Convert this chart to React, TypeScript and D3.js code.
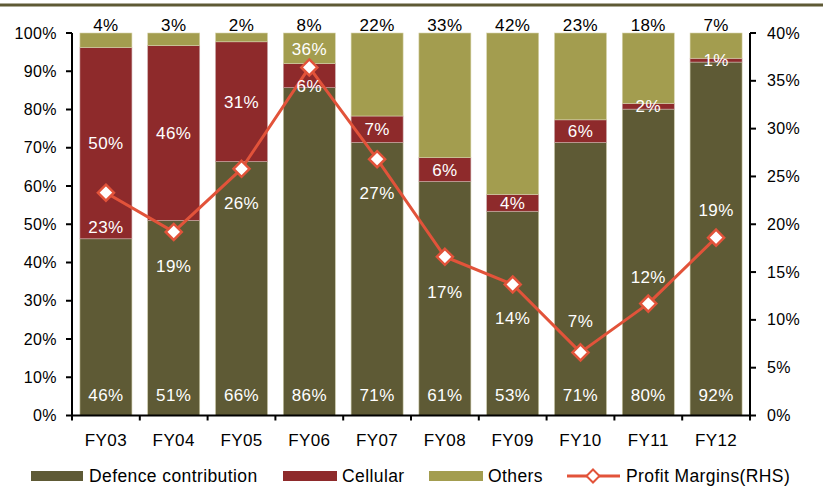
import React, { useEffect } from "react";
import * as d3 from "d3";

const categories = ["FY03", "FY04", "FY05", "FY06", "FY07", "FY08", "FY09", "FY10", "FY11", "FY12"];
const defence = [46.2, 51.0, 66.4, 85.7, 71.4, 61.2, 53.4, 71.4, 80.1, 92.4];
const cellular = [50.0, 45.7, 31.3, 6.3, 6.9, 6.2, 4.4, 5.9, 1.5, 1.0];
const others = [3.8, 3.3, 2.3, 8.0, 21.7, 32.6, 42.2, 22.7, 18.4, 6.6];
const profitMargins = [23.3, 19.2, 25.8, 36.4, 26.8, 16.6, 13.7, 6.6, 11.7, 18.6];
const leftTicks = [0, 10, 20, 30, 40, 50, 60, 70, 80, 90, 100];
const rightTicks = [0, 5, 10, 15, 20, 25, 30, 35, 40];

// label placement (style): vertical offset of profit label from its marker
const profitLabelDy = [34, 34, 34, -18, 34, 35, 34, -31, -27, -28];

const W = 823;
const H = 487;
const M = { left: 72, right: 750, top: 33, bottom: 415.5 };
const FONT = "'Liberation Sans', Arial, Helvetica, sans-serif";
const C_DEF = "#5E5A35";
const C_CEL = "#8E2A2B";
const C_OTH = "#A39D4F";
const C_LINE = "#E2533A";

const pct = (v: number) => `${Math.round(v)}%`;

export default function App() {
  useEffect(() => {
    document.body.style.margin = "0";
  }, []);

  const x = d3.scaleBand<string>().domain(categories).range([M.left, M.right]).paddingInner(0.233).paddingOuter(0.117);
  const step = (M.right - M.left) / categories.length;
  const yL = d3.scaleLinear().domain([0, 100]).range([M.bottom, M.top]);
  const yR = d3.scaleLinear().domain([0, 40]).range([M.bottom, M.top]);
  const bw = x.bandwidth();
  const cx = (c: string) => (x(c) as number) + bw / 2;

  const line = d3
    .line<number>()
    .x((_, i) => cx(categories[i]))
    .y((d) => yR(d));

  const diamond = (px: number, py: number, r: number) =>
    `M${px},${py - r}L${px + r},${py}L${px},${py + r}L${px - r},${py}Z`;

  const tickFs = 16;
  const dataFs = 17;
  const ls = 0.4;

  return (
    <svg width={W} height={H} style={{ display: "block", background: "#fff" }} fontFamily={FONT}>
      <rect x={0} y={3.5} width={W} height={3} fill={C_DEF} />

      {/* bars */}
      {categories.map((c, i) => {
        const x0 = x(c) as number;
        const d1 = defence[i];
        const c1 = d1 + cellular[i];
        const o1 = c1 + others[i];
        return (
          <g key={c}>
            <rect x={x0} y={yL(d1)} width={bw} height={yL(0) - yL(d1)} fill={C_DEF} stroke="#c9c7a6" strokeWidth={0.6} />
            <rect x={x0} y={yL(c1)} width={bw} height={yL(d1) - yL(c1)} fill={C_CEL} stroke="#c9a6a6" strokeWidth={0.6} />
            <rect x={x0} y={yL(o1)} width={bw} height={yL(c1) - yL(o1)} fill={C_OTH} stroke="#d8d4ac" strokeWidth={0.6} />
          </g>
        );
      })}

      {/* axes */}
      <g stroke="#000" strokeWidth={2}>
        <line x1={M.left} x2={M.left} y1={M.top} y2={M.bottom + 1} />
        <line x1={M.right} x2={M.right} y1={M.top} y2={M.bottom + 1} />
        <line x1={M.left - 1} x2={M.right + 1} y1={M.bottom} y2={M.bottom} />
        {leftTicks.map((t) => (
          <line key={"l" + t} x1={M.left - 6} x2={M.left} y1={yL(t)} y2={yL(t)} />
        ))}
        {rightTicks.map((t) => (
          <line key={"r" + t} x1={M.right} x2={M.right + 6} y1={yR(t)} y2={yR(t)} />
        ))}
        {d3.range(categories.length + 1).map((i) => (
          <line key={"x" + i} x1={M.left + i * step} x2={M.left + i * step} y1={M.bottom} y2={M.bottom + 5} />
        ))}
      </g>

      {/* tick labels */}
      <g fontSize={tickFs} fill="#000" letterSpacing={ls}>
        {leftTicks.map((t) => (
          <text key={"lt" + t} x={M.left - 15} y={yL(t)} dy="0.35em" textAnchor="end">
            {t}%
          </text>
        ))}
        {rightTicks.map((t) => (
          <text key={"rt" + t} x={M.right + 17} y={yR(t)} dy="0.35em" textAnchor="start">
            {t}%
          </text>
        ))}
      </g>
      <g fontSize={dataFs} fill="#000" letterSpacing={ls}>
        {categories.map((c) => (
          <text key={"xt" + c} x={cx(c)} y={440} dy="0.35em" textAnchor="middle">
            {c}
          </text>
        ))}
      </g>

      {/* others labels above bars */}
      <g fontSize={dataFs} fill="#000" textAnchor="middle" letterSpacing={ls}>
        {categories.map((c, i) => (
          <text key={"ol" + c} x={cx(c)} y={25} dy="0.35em">
            {pct(others[i])}
          </text>
        ))}
      </g>

      {/* profit line */}
      <path d={line(profitMargins) || ""} fill="none" stroke={C_LINE} strokeWidth={3} strokeLinejoin="round" />

      {/* in-bar labels */}
      <g fontSize={dataFs} fill="#fff" textAnchor="middle" letterSpacing={ls}>
        {categories.map((c, i) => (
          <text key={"dl" + c} x={cx(c)} y={M.bottom - 20} dy="0.35em">
            {pct(defence[i])}
          </text>
        ))}
        {categories.map((c, i) => {
          const mid = yL(defence[i] + cellular[i] / 2);
          const my = yR(profitMargins[i]);
          const ly = Math.abs(mid - my) < 12 ? my + 19 : mid;
          return (
            <text key={"cl" + c} x={cx(c)} y={ly} dy="0.35em">
              {pct(cellular[i])}
            </text>
          );
        })}
        {categories.map((c, i) => (
          <text key={"pl" + c} x={cx(c)} y={yR(profitMargins[i]) + profitLabelDy[i]} dy="0.35em">
            {pct(profitMargins[i])}
          </text>
        ))}
      </g>

      {/* markers */}
      {categories.map((c, i) => (
        <path key={"m" + c} d={diamond(cx(c), yR(profitMargins[i]), 8)} fill="#fff" stroke={C_LINE} strokeWidth={2.5} />
      ))}

      {/* legend */}
      <g fontSize={17.5} fill="#000" letterSpacing={ls}>
        <rect x={31} y={471} width={52} height={10} fill={C_DEF} />
        <text x={89} y={476} dy="0.35em">Defence contribution</text>
        <rect x={283} y={471} width={54} height={10} fill={C_CEL} />
        <text x={342} y={476} dy="0.35em">Cellular</text>
        <rect x={429} y={471} width={54} height={10} fill={C_OTH} />
        <text x={488} y={476} dy="0.35em">Others</text>
        <line x1={567} x2={620} y1={476} y2={476} stroke={C_LINE} strokeWidth={3} />
        <path d={diamond(593, 476, 6.5)} fill="#fff" stroke={C_LINE} strokeWidth={2} />
        <text x={626} y={476} dy="0.35em">Profit Margins(RHS)</text>
      </g>
    </svg>
  );
}
